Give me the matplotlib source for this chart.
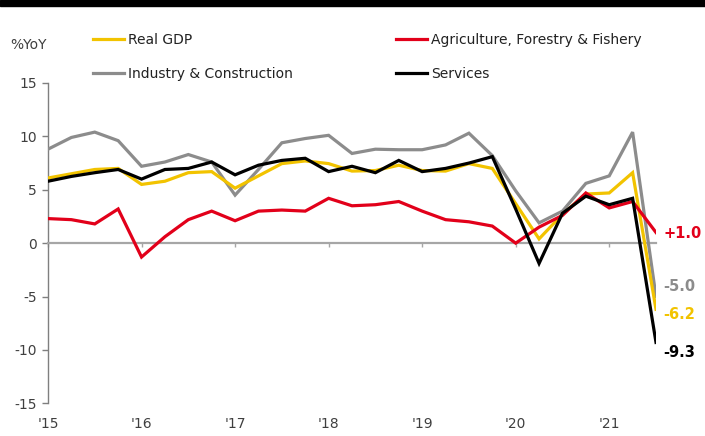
import matplotlib.pyplot as plt
from matplotlib.patches import Rectangle
import numpy as np

# quarterly %YoY, 2015Q1 .. 2021Q3
years = ["'15", "'16", "'17", "'18", "'19", "'20", "'21"]
gdp = [6.1, 6.5, 6.9, 7.0, 5.5, 5.8, 6.6, 6.7, 5.15, 6.3, 7.45, 7.7, 7.45, 6.75,
       6.8, 7.3, 6.8, 6.75, 7.45, 7.0, 3.7, 0.4, 2.7, 4.6, 4.7, 6.6, -6.2]
agri = [2.3, 2.2, 1.8, 3.2, -1.3, 0.6, 2.2, 3.0, 2.1, 3.0, 3.1, 3.0, 4.2, 3.5,
        3.6, 3.9, 3.0, 2.2, 2.0, 1.6, 0.0, 1.5, 2.6, 4.7, 3.3, 3.9, 1.0]
industry = [8.8, 9.9, 10.4, 9.6, 7.2, 7.6, 8.3, 7.6, 4.5, 6.9, 9.4, 9.8, 10.1, 8.4,
            8.8, 8.75, 8.75, 9.2, 10.3, 8.2, 4.9, 1.9, 3.0, 5.6, 6.3, 10.4, -5.0]
services = [5.8, 6.25, 6.6, 6.9, 6.0, 6.9, 7.0, 7.6, 6.4, 7.3, 7.75, 7.95, 6.7, 7.2,
            6.6, 7.75, 6.7, 7.0, 7.5, 8.1, 3.2, -1.9, 2.8, 4.4, 3.6, 4.2, -9.3]

YELLOW = '#F2C300'
RED = '#E2001A'
GREY = '#8C8C8C'
BLACK = '#000000'
TXT = '#3F3F3F'

plt.rcParams['font.family'] = 'DejaVu Sans'
plt.rcParams['axes.unicode_minus'] = False

fig = plt.figure(figsize=(7.05, 4.36), dpi=100)
ax = fig.add_axes([48 / 705, 1 - 403.3 / 436, 608 / 705, 320.3 / 436])

q = np.arange(len(gdp))
lw = 2.3
series = [
    ('Industry & Construction', industry, GREY, 0.9),
    ('Real GDP', gdp, YELLOW, -0.5),
    ('Agriculture, Forestry & Fishery', agri, RED, -0.1),
    ('Services', services, BLACK, -0.9),
]
handles = {}
for name, vals, col, dy in series:
    ln, = ax.plot(q, vals, color=col, lw=lw, zorder=3, solid_joinstyle='miter')
    handles[name] = ln
    ax.text(q[-1] + 0.32, vals[-1] + dy, '{:+.1f}'.format(vals[-1]), color=col,
            fontsize=10.5, fontweight='bold', va='center', ha='left', clip_on=False)

ax.set_xlim(0, q[-1])
ax.set_ylim(-15, 15)
ax.set_yticks(np.arange(-15, 16, 5))

for s in ['top', 'right']:
    ax.spines[s].set_visible(False)
ax.spines['left'].set_color('#7F7F7F')
ax.spines['left'].set_linewidth(1.0)
ax.spines['bottom'].set_position(('data', 0))
ax.spines['bottom'].set_color('#A6A6A6')
ax.spines['bottom'].set_linewidth(1.6)

ax.set_xticks(q[::4])
ax.tick_params(axis='x', length=3, width=1, color='#A6A6A6', labelbottom=False)
ax.tick_params(axis='y', length=4, width=1, color='#7F7F7F', labelsize=10,
               labelcolor=TXT, pad=4)

# year labels sit under the plot, away from the zero line
sec = ax.secondary_xaxis('bottom')
sec.set_xticks(q[::4])
sec.set_xticklabels(years)
sec.spines['bottom'].set_visible(False)
sec.tick_params(length=0, labelsize=10, labelcolor=TXT, pad=10)

fig.text(10 / 705, 1 - 45 / 436, '%YoY', fontsize=10, color=TXT, va='center')

leg_kw = dict(frameon=False, fontsize=10, handlelength=2.2, handletextpad=0.3,
              labelspacing=1.45, borderaxespad=0, borderpad=0)
for col_names, x0 in [(['Real GDP', 'Industry & Construction'], 93),
                      (['Agriculture, Forestry & Fishery', 'Services'], 396)]:
    lg = fig.legend([handles[n] for n in col_names], col_names, loc='upper left',
                    bbox_to_anchor=(x0 / 705, 1 - 33 / 436), **leg_kw)
    for t in lg.get_texts():
        t.set_color('#222222')

# heavy rule across the top
fig.patches.append(Rectangle((0, 1 - 6 / 436), 1, 6 / 436, transform=fig.transFigure,
                             color='black', zorder=5))

fig.savefig('out.png', dpi=100)
